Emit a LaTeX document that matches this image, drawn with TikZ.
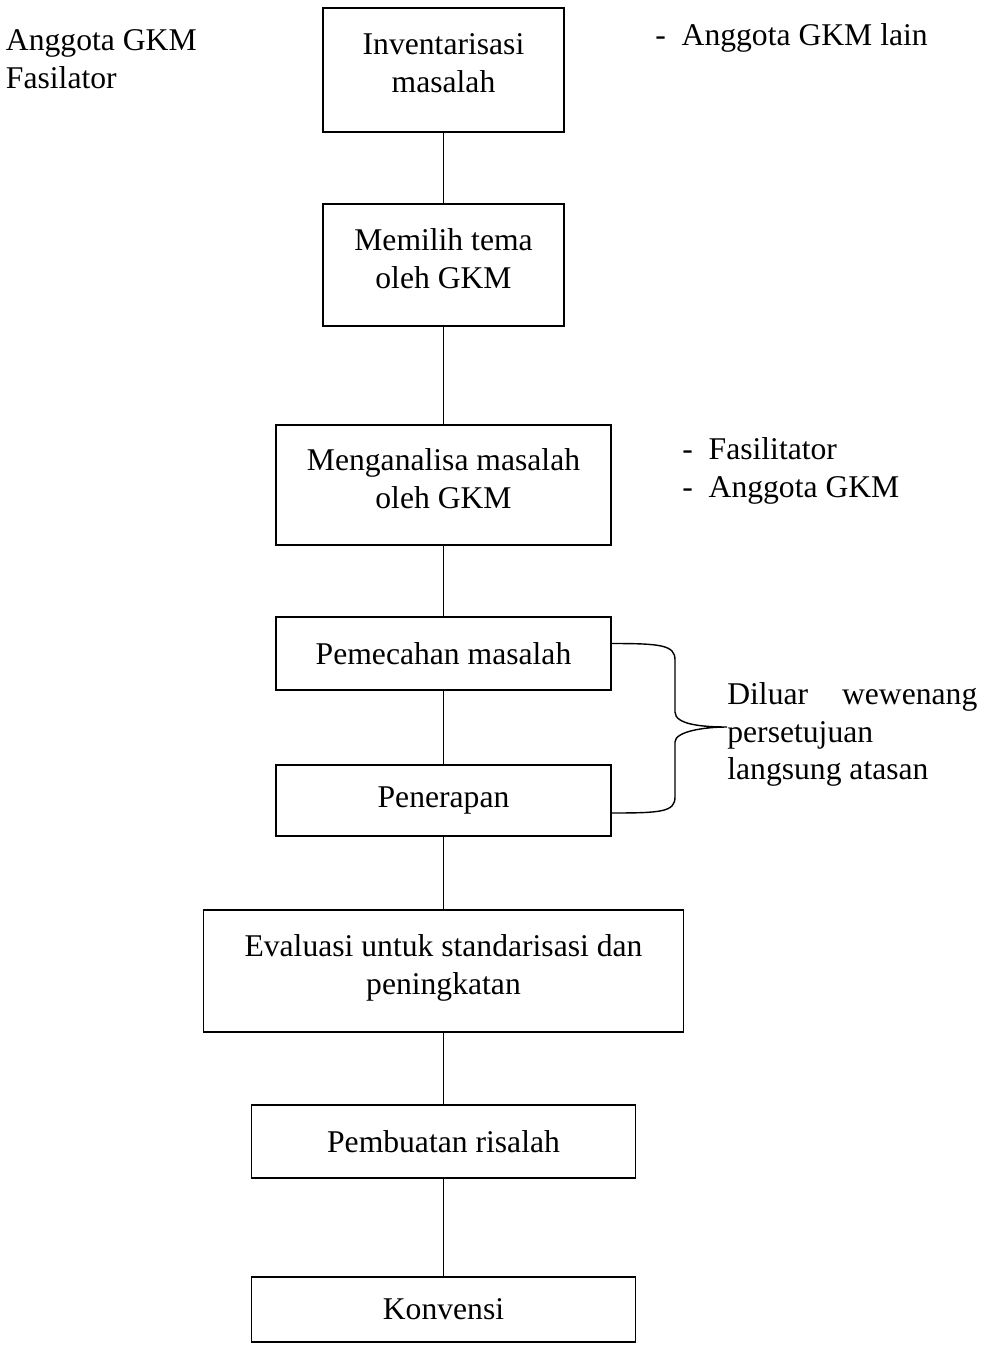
\documentclass[tikz,border=0pt]{standalone}
\usepackage{fontspec}
\setmainfont{Liberation Serif}
\usetikzlibrary{positioning}

\begin{document}
\begin{tikzpicture}[font=\fontsize{18}{21.5}\selectfont,
  langkah/.style={draw, line width=1pt, align=center, inner sep=2pt, outer sep=0pt},
  duabaris/.style={text depth=.27cm},
  catatan/.style={inner sep=0pt, align=left}]

\useasboundingbox (0,0) rectangle (19.7,-26.94);

\node[langkah, duabaris, minimum width=4.82cm, minimum height=2.48cm] (inv) at (8.87,-1.40) {Inventarisasi\\masalah};
\node[langkah, duabaris, below =1.44cm of inv, minimum width=4.82cm, minimum height=2.44cm] (tema) {Memilih tema\\oleh GKM};
\node[langkah, duabaris, below =1.98cm of tema, minimum width=6.7cm, minimum height=2.4cm] (analisa) {Menganalisa masalah\\oleh GKM};
\node[langkah, below =1.44cm of analisa, minimum width=6.7cm, minimum height=1.46cm] (pecah) {Pemecahan masalah};
\node[langkah, below =1.5cm of pecah, minimum width=6.7cm, minimum height=1.42cm] (terap) {Penerapan};
\node[langkah, duabaris, below =1.48cm of terap, minimum width=9.6cm, minimum height=2.44cm] (eval) {Evaluasi untuk standarisasi dan\\peningkatan};
\node[langkah, below =1.46cm of eval, minimum width=7.68cm, minimum height=1.46cm] (risalah) {Pembuatan risalah};
\node[langkah, below =1.98cm of risalah, minimum width=7.68cm, minimum height=1.3cm] (konv) {Konvensi};

\draw [-, line width=.8pt] (inv) to (tema);
\draw [-, line width=.8pt] (tema) to (analisa);
\draw [-, line width=.8pt] (analisa) to (pecah);
\draw [-, line width=.8pt] (pecah) to (terap);
\draw [-, line width=.8pt] (terap) to (eval);
\draw [-, line width=.8pt] (eval) to (risalah);
\draw [-, line width=.8pt] (risalah) to (konv);

\node[catatan, left =2.52cm of inv, yshift=.22cm] (peserta) {Anggota GKM\\Fasilator};
\node[catatan, right =1.82cm of inv, yshift=.64cm] (lain) {-\enspace Anggota GKM lain};
\node[catatan, right =1.42cm of analisa, yshift=.28cm] (fasil) {-\enspace Fasilitator\\-\enspace Anggota GKM};

\coordinate (kurung) at (14.54,-14.54);

\draw [line width=.8pt] ([yshift=.2cm]pecah.east) .. controls +(1,0) and +(0,.3) .. (13.5,-13.2) -- (13.5,-14.24) .. controls +(0,-.25) and +(-.5,0) .. (kurung) .. controls +(-.5,0) and +(0,.2) .. (13.5,-14.84) -- (13.5,-15.94) .. controls +(0,-.3) and +(1,0) .. ([yshift=-.25cm]terap.east);

\node[catatan, right =0cm of kurung, yshift=-.15cm, text width=5cm, align=justify] (diluar) {Diluar\hfill wewenang\\persetujuan\\langsung atasan};

\end{tikzpicture}
\end{document}
